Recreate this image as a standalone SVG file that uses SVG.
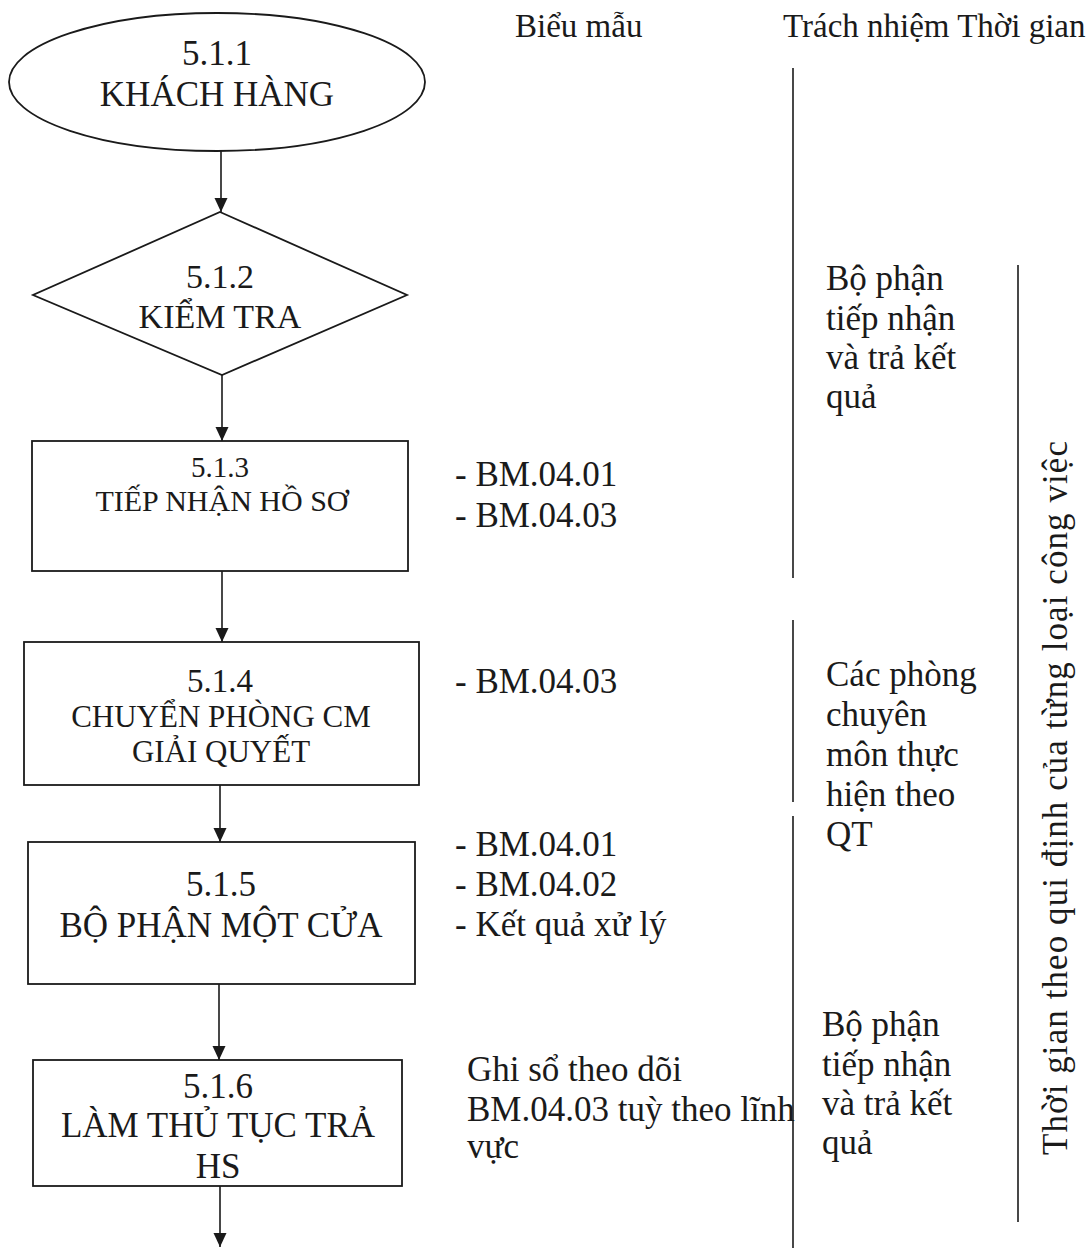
<svg xmlns="http://www.w3.org/2000/svg" width="1089" height="1248" viewBox="0 0 1089 1248">
<style>
text{font-family:"Liberation Serif","Times New Roman",serif;fill:#1a1a1a}
.n{text-anchor:middle}
.shape{fill:#fff;stroke:#1a1a1a;stroke-width:1.8}
.conn{stroke:#1a1a1a;stroke-width:1.6;fill:none}
.rule{stroke:#1a1a1a;stroke-width:1.6}
.t34{font-size:34px}
.t35{font-size:35px}
.t33{font-size:33px}
</style>
<defs>
<marker id="ah" markerUnits="userSpaceOnUse" markerWidth="14" markerHeight="14" refX="14" refY="6.5" orient="auto">
<path d="M0,0 L14,6.5 L0,13 z" fill="#1a1a1a"/>
</marker>
</defs>
<rect width="1089" height="1248" fill="#fff"/>

<g id="connectors">
<line class="conn" x1="221" y1="151" x2="221" y2="212" marker-end="url(#ah)"/>
<line class="conn" x1="222" y1="375" x2="222" y2="441" marker-end="url(#ah)"/>
<line class="conn" x1="222" y1="571" x2="222" y2="642" marker-end="url(#ah)"/>
<line class="conn" x1="220" y1="785" x2="220" y2="842" marker-end="url(#ah)"/>
<line class="conn" x1="219" y1="984" x2="219" y2="1060" marker-end="url(#ah)"/>
<line class="conn" x1="220" y1="1186" x2="220" y2="1247" marker-end="url(#ah)"/>
</g>

<g id="n511">
<ellipse class="shape" cx="217" cy="82" rx="208" ry="69"/>
<text class="n t35" x="217" y="65">5.1.1</text>
<text class="n t35" x="217" y="106">KHÁCH HÀNG</text>
</g>

<g id="n512">
<polygon class="shape" points="220,212 407,295 222,375 33,295"/>
<text class="n t34" x="220" y="288">5.1.2</text>
<text class="n t34" x="220" y="328">KIỂM TRA</text>
</g>

<g id="n513">
<rect class="shape" x="32" y="441" width="376" height="130"/>
<text class="n" style="font-size:29px" x="220" y="477">5.1.3</text>
<text class="n" style="font-size:30px" x="222" y="511">TIẾP NHẬN HỒ SƠ</text>
</g>

<g id="n514">
<rect class="shape" x="24" y="642" width="395" height="143"/>
<text class="n" style="font-size:33px" x="220" y="692">5.1.4</text>
<text class="n" style="font-size:31px" x="221" y="727">CHUYỂN PHÒNG CM</text>
<text class="n" style="font-size:31px" x="221" y="762">GIẢI QUYẾT</text>
</g>

<g id="n515">
<rect class="shape" x="28" y="842" width="387" height="142"/>
<text class="n t35" x="221" y="896">5.1.5</text>
<text class="n t35" x="221" y="937">BỘ PHẬN MỘT CỬA</text>
</g>

<g id="n516">
<rect class="shape" x="33" y="1060" width="369" height="126"/>
<text class="n t35" x="218" y="1098">5.1.6</text>
<text class="n t35" x="218" y="1137">LÀM THỦ TỤC TRẢ</text>
<text class="n t35" x="218" y="1178">HS</text>
</g>

<g id="headers">
<text class="t33" x="515" y="37">Biểu mẫu</text>
<text class="t33" x="783" y="37">Trách nhiệm Thời gian</text>
</g>

<g id="rules">
<line class="rule" x1="793" y1="68" x2="793" y2="578"/>
<line class="rule" x1="793" y1="620" x2="793" y2="802"/>
<line class="rule" x1="793" y1="816" x2="793" y2="1248"/>
<line class="rule" x1="1018" y1="265" x2="1018" y2="1222"/>
</g>

<g id="forms" class="t35">
<text x="455" y="486">- BM.04.01</text>
<text x="455" y="527">- BM.04.03</text>
<text x="455" y="693">- BM.04.03</text>
<text x="455" y="856">- BM.04.01</text>
<text x="455" y="896">- BM.04.02</text>
<text x="455" y="936">- Kết quả xử lý</text>
<text x="467" y="1081">Ghi sổ theo dõi</text>
<text x="467" y="1121">BM.04.03 tuỳ theo lĩnh</text>
<text x="467" y="1158">vực</text>
</g>

<g id="responsibility" class="t35">
<text x="826" y="290">Bộ phận</text>
<text x="826" y="330">tiếp nhận</text>
<text x="826" y="369">và trả kết</text>
<text x="826" y="408">quả</text>
<text x="826" y="686">Các phòng</text>
<text x="826" y="726">chuyên</text>
<text x="826" y="766">môn thực</text>
<text x="826" y="806">hiện theo</text>
<text x="826" y="846">QT</text>
<text x="822" y="1036">Bộ phận</text>
<text x="822" y="1076">tiếp nhận</text>
<text x="822" y="1115">và trả kết</text>
<text x="822" y="1154">quả</text>
</g>

<g id="time">
<text class="n" style="font-size:35px" transform="translate(1067,798) rotate(-90)" textLength="714" lengthAdjust="spacing">Thời gian theo qui định của từng loại công việc</text>
</g>
</svg>
